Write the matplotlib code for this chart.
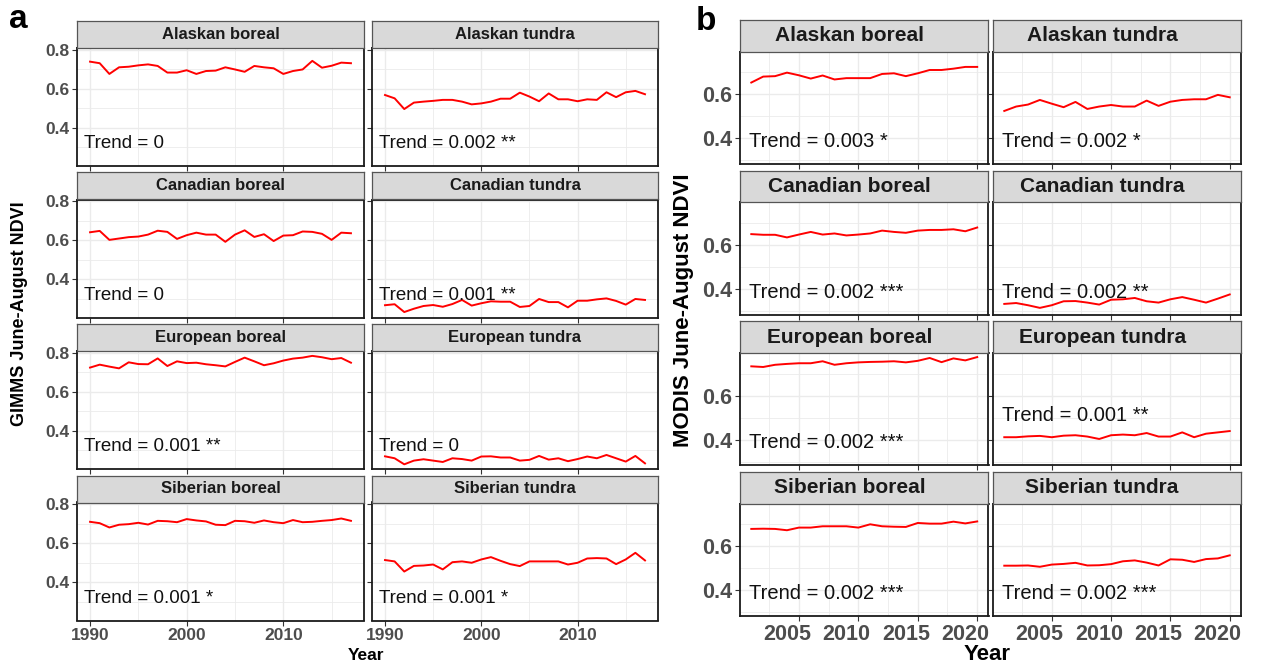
import matplotlib
matplotlib.use("Agg")
import matplotlib.pyplot as plt
import matplotlib.transforms as mtransforms
import numpy as np

plt.rcParams['font.family'] = ['Liberation Sans', 'DejaVu Sans']

# ---- panel a: GIMMS, 1990-2017 ----
years_a = list(range(1990, 2018))
regions = ["Alaskan boreal", "Alaskan tundra", "Canadian boreal", "Canadian tundra",
           "European boreal", "European tundra", "Siberian boreal", "Siberian tundra"]

gimms_alaskan_boreal = [0.740, 0.732, 0.677, 0.711, 0.714, 0.721, 0.726, 0.718, 0.684, 0.684,
                        0.696, 0.677, 0.692, 0.694, 0.711, 0.700, 0.688, 0.718, 0.711, 0.706,
                        0.677, 0.692, 0.700, 0.744, 0.709, 0.719, 0.735, 0.732]
gimms_alaskan_tundra = [0.569, 0.552, 0.497, 0.530, 0.535, 0.539, 0.544, 0.544, 0.535, 0.521,
                        0.526, 0.535, 0.550, 0.550, 0.581, 0.561, 0.537, 0.577, 0.547, 0.547,
                        0.537, 0.547, 0.544, 0.583, 0.558, 0.583, 0.590, 0.573]
gimms_canadian_boreal = [0.642, 0.649, 0.603, 0.610, 0.617, 0.620, 0.630, 0.650, 0.644, 0.608,
                         0.627, 0.640, 0.630, 0.630, 0.593, 0.630, 0.652, 0.618, 0.632, 0.597,
                         0.625, 0.627, 0.646, 0.644, 0.634, 0.603, 0.640, 0.637]
gimms_canadian_tundra = [0.268, 0.273, 0.233, 0.250, 0.264, 0.269, 0.260, 0.274, 0.295, 0.266,
                         0.278, 0.288, 0.286, 0.286, 0.259, 0.264, 0.300, 0.284, 0.284, 0.257,
                         0.291, 0.291, 0.298, 0.303, 0.290, 0.271, 0.300, 0.295]
gimms_european_boreal = [0.725, 0.740, 0.730, 0.721, 0.752, 0.743, 0.742, 0.772, 0.733, 0.757,
                         0.748, 0.750, 0.742, 0.737, 0.731, 0.754, 0.776, 0.757, 0.737, 0.747,
                         0.761, 0.771, 0.776, 0.785, 0.778, 0.768, 0.774, 0.750]
gimms_european_tundra = [0.270, 0.260, 0.229, 0.248, 0.255, 0.248, 0.241, 0.260, 0.256, 0.248,
                         0.269, 0.270, 0.264, 0.264, 0.248, 0.252, 0.272, 0.253, 0.260, 0.245,
                         0.256, 0.269, 0.260, 0.277, 0.260, 0.243, 0.272, 0.234]
gimms_siberian_boreal = [0.711, 0.704, 0.682, 0.696, 0.699, 0.706, 0.697, 0.716, 0.714, 0.709,
                         0.725, 0.718, 0.713, 0.696, 0.694, 0.716, 0.714, 0.706, 0.718, 0.709,
                         0.704, 0.720, 0.709, 0.711, 0.716, 0.720, 0.728, 0.716]
gimms_siberian_tundra = [0.515, 0.508, 0.456, 0.485, 0.487, 0.492, 0.467, 0.504, 0.508, 0.501,
                         0.518, 0.530, 0.511, 0.494, 0.484, 0.508, 0.508, 0.508, 0.508, 0.492,
                         0.501, 0.523, 0.525, 0.523, 0.494, 0.518, 0.552, 0.513]
gimms_trend = ["Trend = 0", "Trend = 0.002 **", "Trend = 0", "Trend = 0.001 **",
               "Trend = 0.001 **", "Trend = 0", "Trend = 0.001 *", "Trend = 0.001 *"]

# ---- panel b: MODIS, 2001-2020 ----
years_b = list(range(2001, 2021))
modis_alaskan_boreal = [0.653, 0.680, 0.682, 0.698, 0.686, 0.671, 0.685, 0.667, 0.673, 0.673,
                        0.673, 0.692, 0.695, 0.682, 0.695, 0.710, 0.710, 0.716, 0.724, 0.724]
modis_alaskan_tundra = [0.524, 0.544, 0.553, 0.574, 0.557, 0.541, 0.565, 0.533, 0.544, 0.551,
                        0.544, 0.544, 0.571, 0.547, 0.566, 0.574, 0.577, 0.577, 0.597, 0.586]
modis_canadian_boreal = [0.649, 0.646, 0.646, 0.634, 0.647, 0.659, 0.647, 0.652, 0.643, 0.647,
                         0.652, 0.665, 0.659, 0.655, 0.665, 0.668, 0.668, 0.671, 0.662, 0.679]
modis_canadian_tundra = [0.332, 0.336, 0.326, 0.314, 0.326, 0.344, 0.345, 0.338, 0.329, 0.351,
                         0.353, 0.359, 0.344, 0.338, 0.353, 0.363, 0.351, 0.338, 0.356, 0.375]
modis_european_boreal = [0.733, 0.730, 0.740, 0.744, 0.747, 0.747, 0.756, 0.740, 0.747, 0.751,
                         0.753, 0.754, 0.756, 0.751, 0.758, 0.771, 0.752, 0.769, 0.760, 0.775]
modis_european_tundra = [0.411, 0.411, 0.415, 0.417, 0.411, 0.418, 0.420, 0.414, 0.403, 0.420,
                         0.423, 0.420, 0.430, 0.414, 0.414, 0.433, 0.411, 0.427, 0.433, 0.439]
modis_siberian_boreal = [0.679, 0.680, 0.679, 0.673, 0.685, 0.685, 0.691, 0.691, 0.691, 0.685,
                         0.700, 0.691, 0.689, 0.688, 0.706, 0.703, 0.703, 0.712, 0.704, 0.713]
modis_siberian_tundra = [0.512, 0.512, 0.513, 0.507, 0.517, 0.520, 0.525, 0.513, 0.514, 0.519,
                         0.532, 0.536, 0.526, 0.513, 0.541, 0.539, 0.529, 0.542, 0.545, 0.559]
modis_trend = ["Trend = 0.003 *", "Trend = 0.002 *", "Trend = 0.002 ***", "Trend = 0.002 **",
               "Trend = 0.002 ***", "Trend = 0.001 **", "Trend = 0.002 ***", "Trend = 0.002 ***"]
modis_trend_y = [0.385, 0.385, 0.385, 0.385, 0.385, 0.51, 0.385, 0.385]

gimms = [gimms_alaskan_boreal, gimms_alaskan_tundra, gimms_canadian_boreal, gimms_canadian_tundra,
         gimms_european_boreal, gimms_european_tundra, gimms_siberian_boreal, gimms_siberian_tundra]
modis = [modis_alaskan_boreal, modis_alaskan_tundra, modis_canadian_boreal, modis_canadian_tundra,
         modis_european_boreal, modis_european_tundra, modis_siberian_boreal, modis_siberian_tundra]

W, H = 1266, 666
fig = plt.figure(figsize=(W / 100, H / 100), dpi=100)


def rect(x0, y0, x1, y1):
    return [x0 / W, 1 - y1 / H, (x1 - x0) / W, (y1 - y0) / H]


GRID = '#EBEBEB'
TICKC = '#4D4D4D'


def draw_panel(box, strip_h, years, vals, title, trend, trend_xy, xlim, ylim,
               xmaj, xmin, ymaj, ymin, show_x, show_y, tsize, ssize, strip_x, ticksize, xoff):
    x0, y0, x1, y1 = box
    ax = fig.add_axes(rect(x0, y0, x1, y1))
    ax.plot(years, vals, color='#FF0000', lw=1.4, zorder=3)
    ax.set_xlim(*xlim)
    ax.set_ylim(*ylim)
    ax.set_xticks(xmaj)
    ax.set_xticks(xmin, minor=True)
    ax.set_yticks(ymaj)
    ax.set_yticks(ymin, minor=True)
    ax.grid(True, which='major', color=GRID, lw=1.0, zorder=0)
    ax.grid(True, which='minor', color=GRID, lw=0.6, zorder=0)
    for s in ax.spines.values():
        s.set_color('#1A1A1A')
        s.set_linewidth(1.3)
    ax.tick_params(which='major', length=3.5, width=0.8, color='#333333',
                   labelsize=ticksize, labelcolor=TICKC, pad=2)
    ax.tick_params(which='minor', length=0)
    ax.tick_params(axis='x', labelbottom=show_x)
    ax.tick_params(axis='y', labelleft=show_y)
    for lab in ax.get_xticklabels() + ax.get_yticklabels():
        lab.set_fontweight('bold')
    if show_x and xoff:
        off = mtransforms.ScaledTranslation(xoff / 100, 0, fig.dpi_scale_trans)
        for lab in ax.get_xticklabels():
            lab.set_transform(lab.get_transform() + off)
    ax.text(trend_xy[0], trend_xy[1], trend, fontsize=tsize, color='#111111',
            ha='left', va='center', zorder=4)
    # strip
    sax = fig.add_axes(rect(x0, y0 - strip_h, x1, y0))
    sax.set_facecolor('#D9D9D9')
    sax.set_xticks([])
    sax.set_yticks([])
    for s in sax.spines.values():
        s.set_color('#555555')
        s.set_linewidth(0.9)
    sax.text(strip_x, 0.5, title, transform=sax.transAxes, ha='center', va='center',
             fontsize=ssize, fontweight='bold', color='#1A1A1A')
    return ax


# panel a layout
cols_a = [(77, 364), (372, 658)]
for i in range(8):
    r, c = divmod(i, 2)
    top = 48 + 151.5 * r
    box = (cols_a[c][0], top, cols_a[c][1], top + 118)
    draw_panel(box, 27, years_a, gimms[i], regions[i], gimms_trend[i], (1989.4, 0.32),
               (1988.65, 2018.35), (0.205, 0.81), [1990, 2000, 2010], [1995, 2005, 2015],
               [0.4, 0.6, 0.8], [0.3, 0.5, 0.7], r == 3, c == 0, 13.5, 12, 0.5, 12.5, 0)

# panel b layout
cols_b = [(740, 988.5), (993, 1241)]
for i in range(8):
    r, c = divmod(i, 2)
    top = 51.5 + 150.7 * r
    box = (cols_b[c][0], top, cols_b[c][1], top + 112.5)
    draw_panel(box, 31.5, years_b, modis[i], regions[i], modis_trend[i], (2000.8, modis_trend_y[i]),
               (2000.05, 2020.95), (0.283, 0.794), [2005, 2010, 2015, 2020],
               [2002.5, 2007.5, 2012.5, 2017.5], [0.4, 0.6], [0.3, 0.5, 0.7],
               r == 3, c == 0, 14.5, 15, 0.44, 15.5, -12)

fig.text(18 / W, 1 - 20 / H, "a", fontsize=24, fontweight='bold', ha='center', va='center')
fig.text(706 / W, 1 - 22 / H, "b", fontsize=24, fontweight='bold', ha='center', va='center')
fig.text(20 / W, 1 - 314 / H, "GIMMS June-August NDVI", rotation=90, fontsize=13,
         fontweight='bold', ha='center', va='center')
fig.text(683 / W, 1 - 310 / H, "MODIS June-August NDVI", rotation=90, fontsize=16,
         fontweight='bold', ha='center', va='center')
fig.text(366 / W, 1 - 655 / H, "Year", fontsize=12.5, fontweight='bold', ha='center', va='center')
fig.text(987 / W, 1 - 654 / H, "Year", fontsize=16, fontweight='bold', ha='center', va='center')

fig.savefig("out.png", dpi=100, facecolor='white')
